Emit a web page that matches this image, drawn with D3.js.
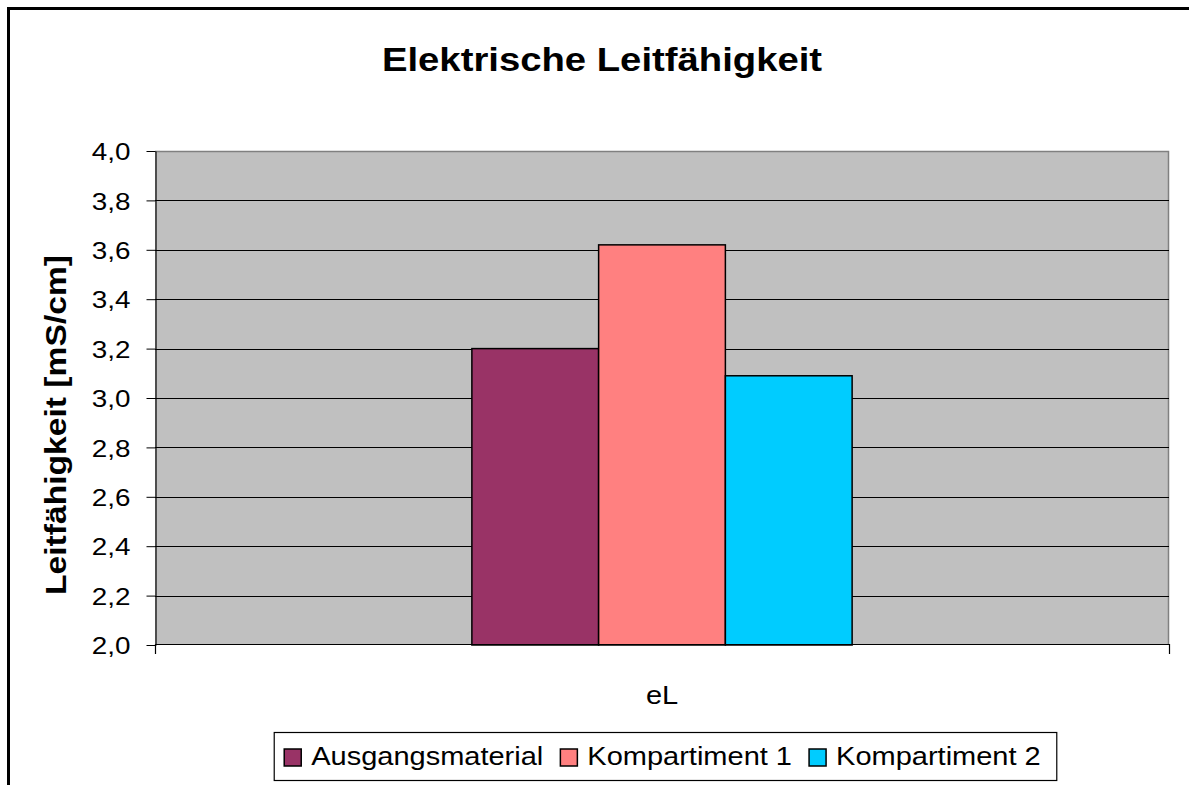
<!DOCTYPE html>
<html>
<head>
<meta charset="utf-8">
<script src="https://cdn.jsdelivr.net/npm/d3@7"></script>
<style>
  html, body { margin: 0; padding: 0; background: #fff; }
  svg { display: block; font-family: "Liberation Sans", Arial, sans-serif; }
</style>
</head>
<body>
<svg id="chart" width="1189" height="785"></svg>
<script>
// Chart data
const categories = ["eL"];
const seriesNames = ["Ausgangsmaterial", "Kompartiment 1", "Kompartiment 2"];
const seriesValues = [3.2, 3.62, 3.09];
const seriesColors = ["#993366", "#FF8080", "#00CCFF"];
const yTickValues = [2.0, 2.2, 2.4, 2.6, 2.8, 3.0, 3.2, 3.4, 3.6, 3.8, 4.0];
const yTickLabels = ["2,0", "2,2", "2,4", "2,6", "2,8", "3,0", "3,2", "3,4", "3,6", "3,8", "4,0"];
const chartTitle = "Elektrische Leitfähigkeit";
const yAxisTitle = "Leitfähigkeit [mS/cm]";

// Text in this chart is rendered a bit wider than the plain font metrics
const SX = 1.16;

const svg = d3.select("#chart");
const plot = { left: 155, right: 1169, top: 151, bottom: 645 };

// Outer chart frame (runs off the right and bottom edges)
svg.append("rect")
  .attr("x", 8.5).attr("y", 8.5)
  .attr("width", 1200).attr("height", 800)
  .attr("fill", "none").attr("stroke", "#000").attr("stroke-width", 3);

// Scales
const y = d3.scaleLinear().domain([2.0, 4.0]).range([plot.bottom, plot.top]);
const x0 = d3.scaleBand().domain(categories)
  .range([plot.left, plot.right]).paddingInner(0).paddingOuter(5 / 6);
const x1 = d3.scaleBand().domain(seriesNames).range([0, x0.bandwidth()]);

// Plot area background
svg.append("rect")
  .attr("x", plot.left).attr("y", plot.top)
  .attr("width", plot.right - plot.left).attr("height", plot.bottom - plot.top)
  .attr("fill", "#C0C0C0");
// Plot area border (top / right)
svg.append("path")
  .attr("d", `M${plot.left},${plot.top + 0.5}H${plot.right - 0.5}V${plot.bottom}`)
  .attr("fill", "none").attr("stroke", "#808080").attr("stroke-width", 1.5);

// Horizontal gridlines
svg.append("g").selectAll("line")
  .data(yTickValues.slice(1, -1))
  .join("line")
  .attr("x1", plot.left).attr("x2", plot.right)
  .attr("y1", d => Math.round(y(d)) + 0.5).attr("y2", d => Math.round(y(d)) + 0.5)
  .attr("stroke", "#000").attr("stroke-width", 1);

// Bars
const groups = svg.append("g").selectAll("g")
  .data(categories)
  .join("g")
  .attr("transform", d => `translate(${x0(d)},0)`);
groups.selectAll("rect")
  .data(() => seriesNames.map((name, i) => ({ name, value: seriesValues[i], color: seriesColors[i] })))
  .join("rect")
  .attr("x", d => x1(d.name))
  .attr("y", d => y(d.value))
  .attr("width", x1.bandwidth())
  .attr("height", d => y(2.0) - y(d.value))
  .attr("fill", d => d.color)
  .attr("stroke", "#000").attr("stroke-width", 1.5);

// Y axis
const yAxis = d3.axisLeft(y)
  .tickValues(yTickValues)
  .tickFormat((d, i) => yTickLabels[i])
  .tickSize(9).tickSizeOuter(0).tickPadding(16);
const yg = svg.append("g")
  .attr("transform", `translate(${plot.left + 0.5},0)`)
  .call(yAxis);
yg.select(".domain").attr("stroke", "#000").attr("stroke-width", 1.2);
yg.selectAll(".tick line").attr("stroke", "#000");
yg.selectAll(".tick text")
  .attr("font-size", 24).attr("fill", "#000")
  .attr("font-family", "'Liberation Sans', Arial, sans-serif")
  .attr("x", -25 / SX).attr("dy", "0.36em")
  .attr("transform", `scale(${SX},1)`);

// X axis: baseline, ticks at the category edges, category label centred
const xg = svg.append("g");
xg.append("line")
  .attr("x1", plot.left).attr("x2", plot.right)
  .attr("y1", plot.bottom - 0.5).attr("y2", plot.bottom - 0.5)
  .attr("stroke", "#000").attr("stroke-width", 1.2);
xg.selectAll("line.edge")
  .data(x0.range())
  .join("line").attr("class", "edge")
  .attr("x1", d => d + 0.5).attr("x2", d => d + 0.5)
  .attr("y1", plot.bottom - 1).attr("y2", plot.bottom + 9)
  .attr("stroke", "#000").attr("stroke-width", 1.2);
xg.selectAll("text")
  .data(categories)
  .join("text")
  .attr("transform", d => `translate(${x0(d) + x0.bandwidth() / 2},704) scale(${SX},1)`)
  .attr("text-anchor", "middle")
  .attr("font-size", 25)
  .text(d => d);

// Title
svg.append("text")
  .attr("transform", `translate(602,71) scale(${SX},1)`)
  .attr("text-anchor", "middle")
  .attr("font-size", 33).attr("font-weight", "bold")
  .text(chartTitle);

// Y axis title
svg.append("text")
  .attr("transform", `translate(66,425) rotate(-90) scale(${SX},1)`)
  .attr("text-anchor", "middle")
  .attr("font-size", 29).attr("font-weight", "bold")
  .text(yAxisTitle);

// Legend
const legend = svg.append("g");
const legendFont = 25, sw = 17, swGap = 10, itemGap = 17, padL = 10, padR = 16;
const items = legend.selectAll("g.item")
  .data(seriesNames.map((n, i) => ({ name: n, color: seriesColors[i] })))
  .join("g").attr("class", "item");
items.append("text")
  .attr("font-size", legendFont)
  .text(d => d.name);
let cursor = padL;
items.each(function (d) {
  const g = d3.select(this);
  const w = g.select("text").node().getComputedTextLength() * SX;
  d.offset = cursor;
  cursor += sw + swGap + w + itemGap;
});
const legendWidth = cursor - itemGap + padR;
const legendLeft = 665.5 - legendWidth / 2;
const legendTop = 732.5, legendH = 48;
legend.insert("rect", ":first-child")
  .attr("x", legendLeft).attr("y", legendTop)
  .attr("width", legendWidth).attr("height", legendH)
  .attr("fill", "#fff").attr("stroke", "#000").attr("stroke-width", 1.2);
items.append("rect")
  .attr("x", d => legendLeft + d.offset).attr("y", 749)
  .attr("width", sw).attr("height", sw)
  .attr("fill", d => d.color).attr("stroke", "#000").attr("stroke-width", 1.5);
items.select("text")
  .attr("transform", d => `translate(${legendLeft + d.offset + sw + swGap},765) scale(${SX},1)`);
</script>
</body>
</html>
